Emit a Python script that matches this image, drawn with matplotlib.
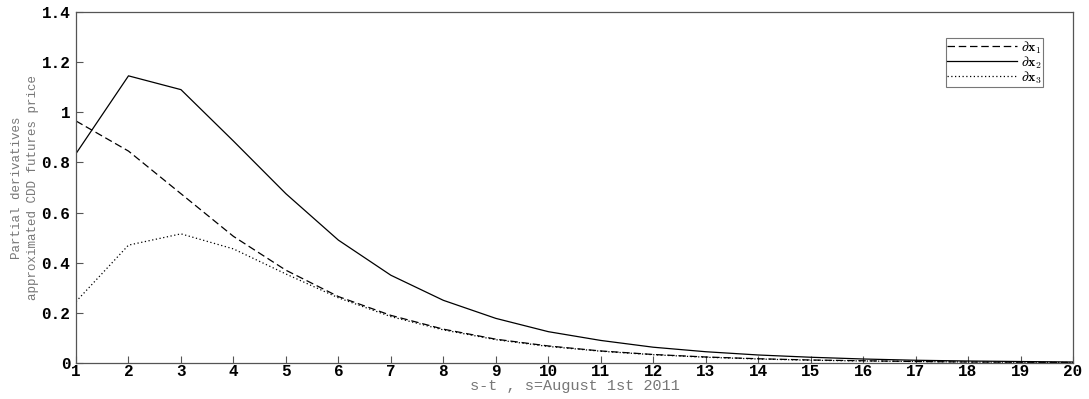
import matplotlib
matplotlib.use("Agg")
import matplotlib.pyplot as plt

plt.rcParams['mathtext.fontset'] = 'cm'

steps = list(range(1, 21))
dx1 = [0.965, 0.845, 0.675, 0.505, 0.37, 0.265, 0.19, 0.135, 0.095, 0.068,
       0.048, 0.034, 0.024, 0.017, 0.012, 0.009, 0.006, 0.004, 0.003, 0.002]
dx2 = [0.835, 1.145, 1.09, 0.885, 0.675, 0.49, 0.35, 0.25, 0.178, 0.125,
       0.09, 0.063, 0.045, 0.032, 0.023, 0.016, 0.011, 0.008, 0.006, 0.004]
dx3 = [0.245, 0.47, 0.515, 0.455, 0.355, 0.26, 0.185, 0.132, 0.093, 0.066,
       0.047, 0.033, 0.023, 0.016, 0.011, 0.008, 0.006, 0.004, 0.003, 0.002]
yticks = [0, 0.2, 0.4, 0.6, 0.8, 1, 1.2, 1.4]
ytick_labels = ['0', '0.2', '0.4', '0.6', '0.8', '1', '1.2', '1.4']

fig = plt.figure(figsize=(10.89, 3.99), dpi=100)
ax = fig.add_axes([0.0698, 0.0902, 0.9155, 0.880])

ax.plot(steps, dx1, color='black', linestyle=(0, (6, 3)), linewidth=0.9, label=r'$\partial\mathbf{x}_1$')
ax.plot(steps, dx2, color='black', linestyle='-', linewidth=0.9, label=r'$\partial\mathbf{x}_2$')
ax.plot(steps, dx3, color='black', linestyle=(0, (1, 2)), linewidth=0.9, label=r'$\partial\mathbf{x}_3$')

ax.set_xlim(1, 20)
ax.set_ylim(0, 1.4)
ax.set_xticks(steps)
ax.set_yticks(yticks)

tick_font = {'family': 'Liberation Mono', 'weight': 'bold', 'size': 11.5}
ax.set_xticklabels([str(s) for s in steps], fontdict=tick_font)
ax.set_yticklabels(ytick_labels, fontdict=tick_font)
ax.tick_params(direction='in', length=5, color='#555555', width=0.8)
ax.tick_params(axis='x', pad=1)
ax.tick_params(axis='y', pad=4)
for sp in ax.spines.values():
    sp.set_color('#555555')
    sp.set_linewidth(0.9)

ax.set_xlabel('s-t , s=August 1st 2011', family='Liberation Mono', size=11, color='#777777', labelpad=0)
ax.set_ylabel('Partial derivatives\napproximated CDD futures price', family='Liberation Mono',
              size=9, color='#777777', labelpad=2, linespacing=1.45)

leg = ax.legend(loc='upper right', bbox_to_anchor=(0.970, 0.926), fontsize=10, frameon=True,
                fancybox=False, handlelength=5.0, handletextpad=0.3, borderpad=0.1,
                labelspacing=-0.1, borderaxespad=0)
leg.get_frame().set_edgecolor('#555555')
leg.get_frame().set_linewidth(0.8)

fig.savefig('out.png', dpi=100)
